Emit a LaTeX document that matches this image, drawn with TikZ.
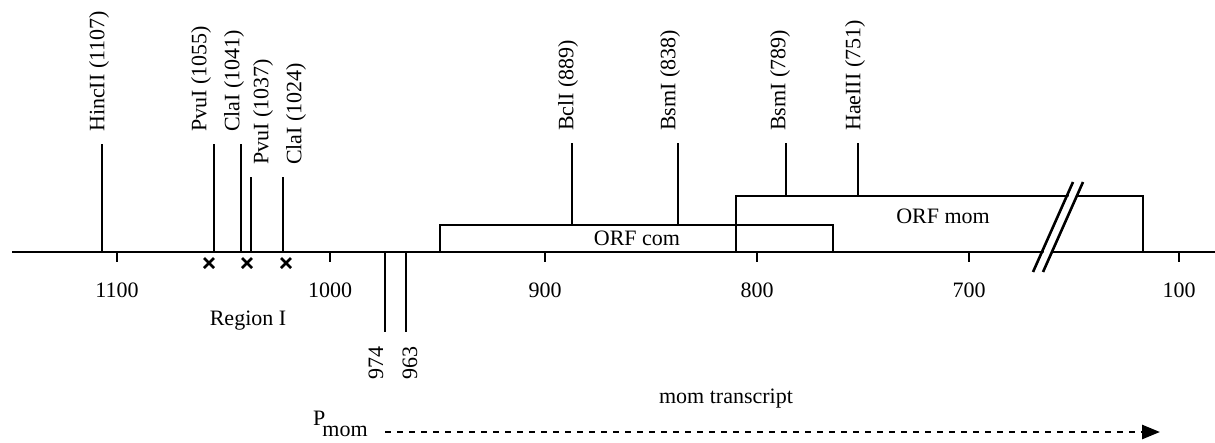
\documentclass[tikz,border=0pt]{standalone}
\usepackage{fontspec}
\setmainfont{Liberation Serif}
\usetikzlibrary{arrows.meta, positioning}

\begin{document}
\begin{tikzpicture}[x=1pt, y=-1pt, line width=2.4pt,
    font=\fontsize{22}{25}\selectfont,
    site/.style={rotate=90, inner sep=0pt},
    tickl/.style={inner sep=0pt},
    cross/.style={line width=2.8pt}]
    \useasboundingbox (0,0) rectangle (1215,442);

    % axis
    \coordinate (a0) at (12,252);
    \coordinate (a1) at (1215,252);
    \draw (a0) -- (a1);

    % ORF boxes
    \draw (440,252) rectangle (833,225);
    \draw (736,252) rectangle (1143,196);
    \node (com) at (637,238) {ORF com};
    \node (mom) at (943,216) {ORF mom};

    % break in the scale
    \fill[white] (1035,272) -- (1042,272) -- (1082,182) -- (1075,182) -- cycle;
    \draw[line width=2.6pt] (1033,272) -- (1073,182);
    \draw[line width=2.6pt] (1043,272) -- (1083,182);

    % scale ticks
    \foreach \x/\v in {117/1100, 330/1000, 545/900, 757/800, 969/700, 1179/100} {
        \coordinate (t\v) at (\x,252);
        \draw (t\v) -- ++(0,10);
        \node[tickl] (n\v) at (\x,290) {\v};
    }

    % restriction sites
    \foreach \x/\lx/\top/\bot/\name/\lbl in {
        102/99/144/252/hinc/HincII (1107),
        214/201/144/252/pvua/PvuI (1055),
        241/234/144/252/claa/ClaI (1041),
        251/263/177/252/pvub/PvuI (1037),
        283/296/177/252/clab/ClaI (1024),
        572/568/143/225/bcl/BclI (889),
        678/670/143/225/bsma/BsmI (838),
        786/780/143/196/bsmb/BsmI (789),
        858/855/143/196/hae/HaeIII (751)} {
        \coordinate (\name-b) at (\x,\bot);
        \coordinate (\name-t) at (\x,\top);
        \draw (\name-b) -- (\name-t);
        \node[site, anchor=west] (\name) at (\lx,\top-11) {\lbl};
    }

    % deletions
    \foreach \x in {209, 247, 286} {
        \draw[cross] (\x-5,258) -- (\x+5,268) (\x-5,268) -- (\x+5,258);
    }

    % end points 974 and 963
    \coordinate (e974) at (385,252);
    \coordinate (e963) at (406,252);
    \draw (e974) -- ++(0,80);
    \draw (e963) -- ++(0,80);
    \node[site, anchor=east] (l974) at (376,345) {974};
    \node[site, anchor=east] (l963) at (410,345) {963};

    \node (reg) at (248,321) {Region I};
    \node (trans) at (726,399) {mom transcript};

    % promoter and transcript
    \node[inner sep=0pt, anchor=base west] (pmom) at (312,425)
        {P\kern-3pt\raisebox{-11pt}{mom}};
    \coordinate (tstart) at (385,432);
    \coordinate (tend) at (1160,432);
    \draw[dashed, dash pattern=on 6pt off 6pt, line width=2.6pt,
        -{Triangle[length=18pt, width=14pt]}] (tstart) -- (tend);
\end{tikzpicture}
\end{document}
